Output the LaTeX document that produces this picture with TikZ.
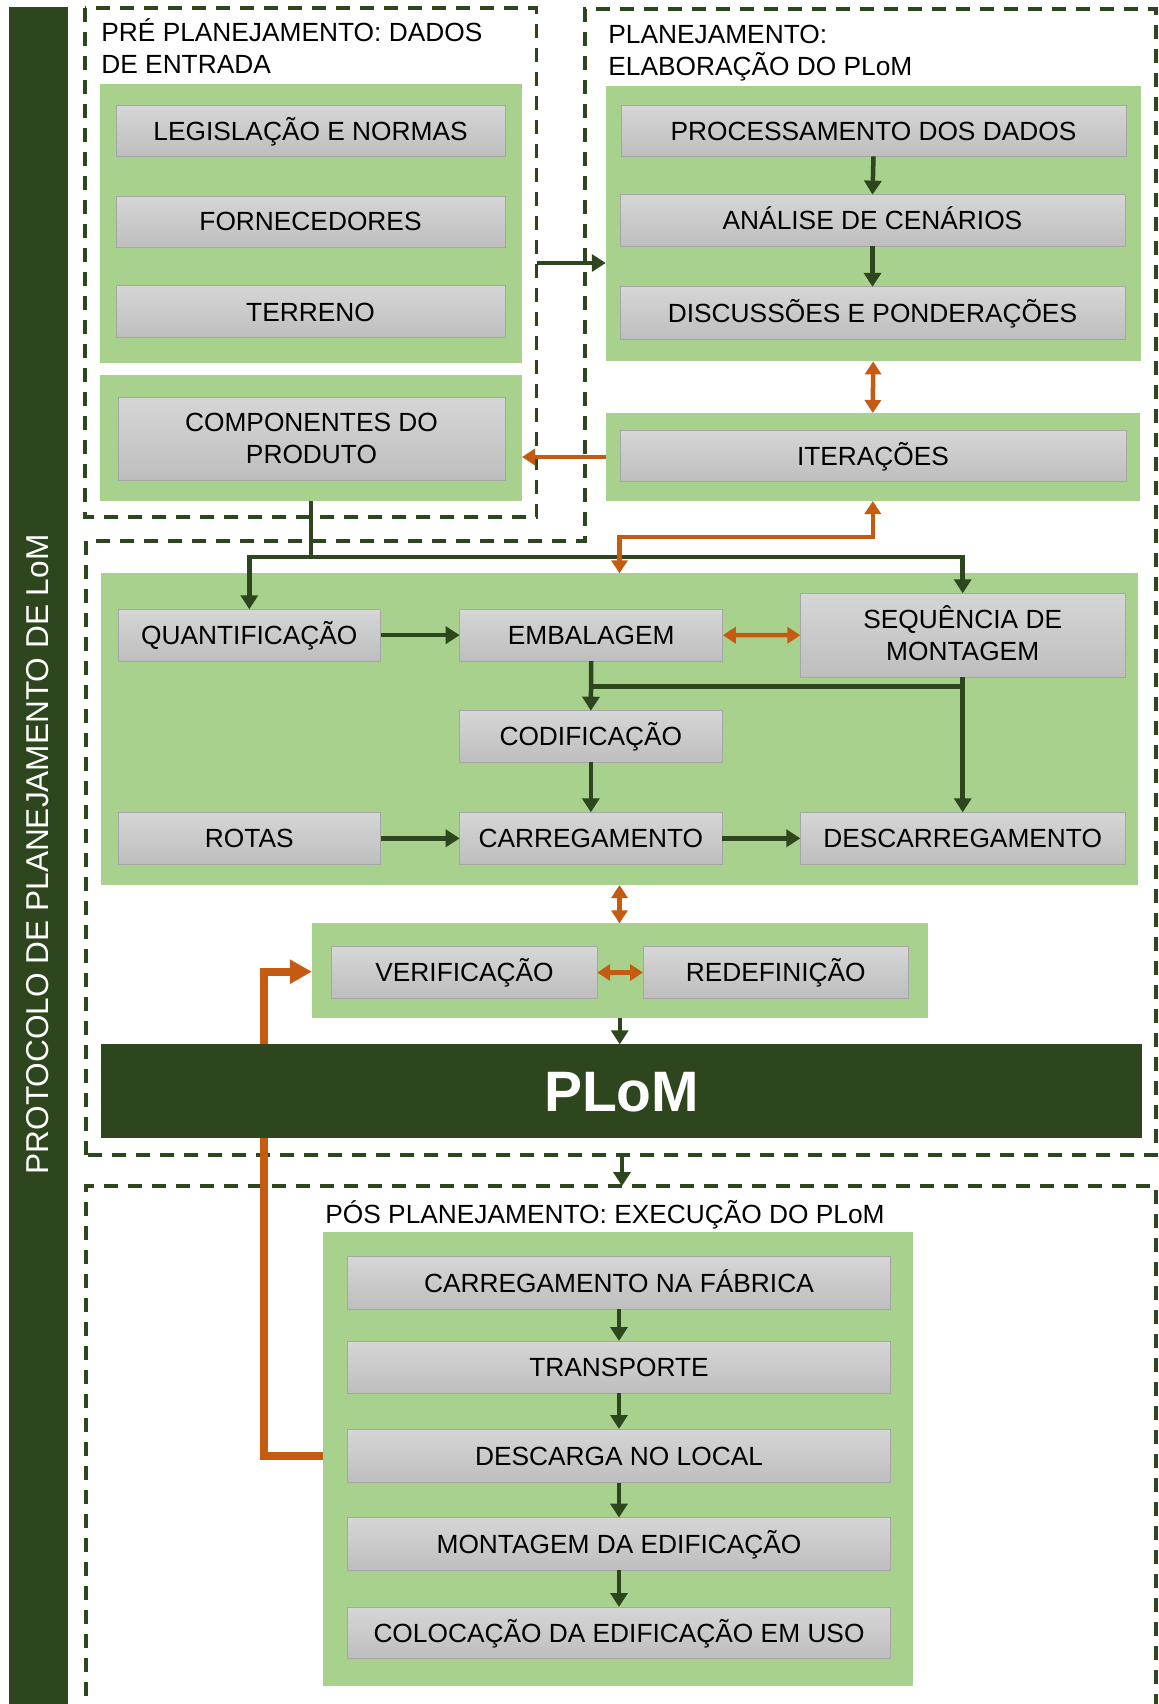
\documentclass[tikz,border=0pt]{standalone}
\usepackage{fontspec}
\setmainfont{Liberation Sans}
\usetikzlibrary{arrows.meta}
\definecolor{lgreen}{RGB}{169,209,142}
\definecolor{dgreen}{RGB}{46,70,30}
\definecolor{orng}{RGB}{197,90,17}
\definecolor{gtop}{RGB}{214,214,214}
\definecolor{gbot}{RGB}{190,190,190}
\definecolor{gedge}{RGB}{166,166,166}
\newcommand\mkbox[7][]{\node[#1, minimum width={(#5-#3)*0.5pt}, minimum height={(#6-#4)*0.5pt}] (#2) at ({(#3+#5)/2},{(#4+#6)/2}) {#7};}
\begin{document}
\begin{tikzpicture}[x=0.5pt, y=-0.5pt,
  graybox/.style={draw=gedge, line width=0.5pt, top color=gtop, bottom color=gbot, inner sep=0pt, outer sep=0pt, font=\fontsize{13.15pt}{15.9pt}\selectfont, align=center, text=black},
  capc/.style={text height=9.42pt, text depth=0pt},
  greenbox/.style={fill=lgreen, inner sep=0pt, outer sep=0pt},
  dashbox/.style={draw=dgreen, line width=1.65pt, dash pattern=on 7pt off 5pt},
  dline/.style={draw=dgreen, line width=2.25pt},
  darr/.style={dline, -{Triangle[width=8.5pt,length=7pt]}},
  oline/.style={draw=orng, line width=2.25pt},
  oarr/.style={oline, -{Triangle[width=8pt,length=6.5pt]}},
  obi/.style={oline, {Triangle[width=8pt,length=6.5pt]}-{Triangle[width=8pt,length=6.5pt]}},
  othick/.style={draw=orng, line width=3.8pt, -{Triangle[width=11.5pt,length=11pt]}},
  ttl/.style={anchor=base west, inner sep=0pt, font=\fontsize{13.15pt}{15.9pt}\selectfont}
]
\useasboundingbox (0,0) rectangle (1159,1704);

% dashed frames
\draw[dashbox] (85,8) rectangle (536.5,517);
\draw[dashbox] (86,1155) -- (86,541) -- (585,541) -- (585,9) -- (1156,9) -- (1156,1155) -- cycle;
\draw[dashbox] (86,1720) -- (86,1186) -- (1156,1186) -- (1156,1720);

% side bar
\mkbox[fill=dgreen, inner sep=0pt, outer sep=0pt]{bar}{9}{7}{68}{1712}{}
\node[rotate=90, text=white, inner sep=0pt, font=\fontsize{15.8pt}{19pt}\selectfont] (bartxt) at (38,854.5) {PROTOCOLO DE PLANEJAMENTO DE LoM};

% pre planning
\node[ttl] (preT1) at (101,41) {PRÉ PLANEJAMENTO: DADOS};
\node[ttl] (preT2) at (101,73) {DE ENTRADA};
\mkbox[greenbox]{preG}{100}{84.3}{522}{362.9}{}
\mkbox[graybox,capc]{leg}{116}{105}{505}{156.4}{LEGISLAÇÃO E NORMAS}
\mkbox[graybox,capc]{forn}{116}{196}{505}{247}{FORNECEDORES}
\mkbox[graybox,capc]{terr}{116}{285.7}{505}{337.9}{TERRENO}
\mkbox[greenbox]{cG}{100}{374.6}{522}{501}{}
\mkbox[graybox]{comp}{118}{397}{505}{480}{COMPONENTES DO\\PRODUTO}

% planning
\node[ttl] (plT1) at (608,43) {PLANEJAMENTO:};
\node[ttl] (plT2) at (608,75) {ELABORAÇÃO DO PLoM};
\mkbox[greenbox]{pG}{605.8}{85.7}{1140.6}{361.4}{}
\mkbox[graybox,capc]{proc}{621}{105}{1126}{156.4}{PROCESSAMENTO DOS DADOS}
\mkbox[graybox,capc]{anal}{620}{194.6}{1125}{246.4}{ANÁLISE DE CENÁRIOS}
\mkbox[graybox,capc]{disc}{620}{286.8}{1125}{339}{DISCUSSÕES E PONDERAÇÕES}
\mkbox[greenbox]{iG}{605.8}{413}{1139.8}{501}{}
\mkbox[graybox,capc]{iter}{620}{430}{1126}{481.4}{ITERAÇÕES}

% middle
\mkbox[greenbox]{mG}{101}{573.3}{1138}{885}{}
\mkbox[graybox,capc]{quant}{118}{609.3}{380.6}{661}{QUANTIFICAÇÃO}
\mkbox[graybox,capc]{emb}{459.7}{609.3}{722.8}{661}{EMBALAGEM}
\mkbox[graybox]{seq}{800.4}{593.3}{1125}{677.3}{SEQU\smash{Ê}NCIA DE\\MONTAGEM}
\mkbox[graybox,capc]{cod}{459.7}{710.7}{722}{762.3}{CODIFICAÇÃO}
\mkbox[graybox,capc]{rot}{118}{812.3}{380.6}{864.3}{ROTAS}
\mkbox[graybox,capc]{carr}{459.7}{812.3}{722}{864.3}{CARREGAMENTO}
\mkbox[graybox,capc]{desc}{800.4}{812.3}{1125}{864.3}{DESCARREGAMENTO}

% verification
\mkbox[greenbox]{vG}{311.9}{923.3}{927.6}{1018.3}{}
\mkbox[graybox,capc]{ver}{331.9}{946.7}{597.2}{998.3}{VERIFICAÇÃO}
\mkbox[graybox,capc]{red}{643}{946.7}{908.4}{998.3}{REDEFINIÇÃO}

% post planning
\node[ttl] (poT) at (325,1223) {PÓS PLANEJAMENTO: EXECUÇÃO DO PLoM};
\mkbox[greenbox]{poG}{323}{1231.8}{912.8}{1685.7}{}
\mkbox[graybox,capc]{cf}{347.4}{1256.2}{890.6}{1309.3}{CARREGAMENTO NA FÁBRICA}
\mkbox[graybox,capc]{tr}{347.4}{1341}{890.6}{1393.2}{TRANSPORTE}
\mkbox[graybox,capc]{dl}{347.4}{1429}{890.6}{1482.5}{DESCARGA NO LOCAL}
\mkbox[graybox,capc]{me}{347.4}{1517.6}{890.6}{1570.4}{MONTAGEM DA EDIFICAÇÃO}
\mkbox[graybox,capc]{cu}{347.4}{1607}{890.6}{1658.6}{COLOCAÇÃO DA EDIFICAÇÃO EM USO}

% orange feedback loop (behind PLoM)
\coordinate (ol) at (263.9,971.7);
\draw[othick] (dl.west -| poG.west) -| (ol) -- (ol -| vG.west);

% PLoM
\mkbox[fill=dgreen, text=white, inner sep=0pt, outer sep=0pt, font=\fontsize{28.5pt}{30pt}\selectfont\bfseries, text height=20.4pt, text depth=0pt]{plom}{101.3}{1044.3}{1142}{1137.7}{PLoM}

% connectors
\coordinate (preE) at (536.5,263);
\draw[darr] (preE) -- (preE -| pG.west);
\draw[darr] (proc.south) -- (anal.north);
\draw[darr] (anal.south) -- (disc.north);
\draw[obi] (pG.south) -- (iG.north);
\draw[oarr] (iG.west) -- (iG.west -| cG.east);
\coordinate (jn) at (311,557);
\draw[dline] (cG.south) -- (jn);
\draw[darr] (jn) -| (quant.north);
\draw[darr] (jn) -| (seq.north);
\coordinate (jo) at (619.5,537);
\draw[obi] (iG.south) |- (jo) -- (mG.north);
\draw[darr] (quant) -- (emb);
\draw[obi] (emb) -- (seq);
\draw[darr] (emb.south) -- (cod.north);
\draw[darr] (seq.south) -- (desc.north);
\coordinate (k1) at (591,686.7);
\coordinate (k2) at (962.7,686.7);
\draw[dline] (k1) -- (k2);
\draw[darr] (cod.south) -- (carr.north);
\draw[darr] (rot) -- (carr);
\draw[darr] (carr) -- (desc);
\draw[obi] (mG.south) -- (mG.south |- vG.north);
\draw[obi] (ver) -- (red);
\draw[darr] (vG.south) -- (vG.south |- plom.north);
\coordinate (mb) at (622,1155);
\coordinate (pt) at (622,1186);
\draw[darr] (mb) -- (pt);
\draw[darr] (cf) -- (tr);
\draw[darr] (tr) -- (dl);
\draw[darr] (dl) -- (me);
\draw[darr] (me) -- (cu);
\end{tikzpicture}
\end{document}
